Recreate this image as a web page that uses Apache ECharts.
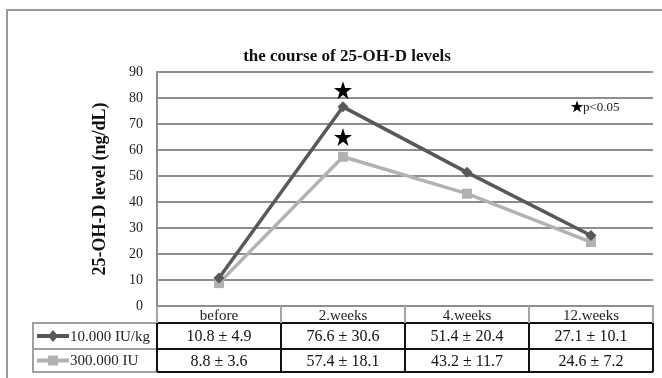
<!DOCTYPE html>
<html>
<head>
<meta charset="utf-8">
<script src="https://cdn.jsdelivr.net/npm/echarts@6/dist/echarts.min.js"></script>
<style>
  html, body { margin: 0; padding: 0; background: #fff; }
  #chart { width: 662px; height: 378px; }
</style>
</head>
<body>
<div id="chart"></div>
<script>
// Time points
const categories = ['before', '2.weeks', '4.weeks', '12.weeks'];
// Series names
const seriesNames = ['10.000 IU/kg', '300.000 IU'];
// Mean 25-OH-D levels (ng/dL)
const highDoseMean = [10.8, 76.6, 51.4, 27.1];
const lowDoseMean = [8.8, 57.4, 43.2, 24.6];
// Standard deviations
const highDoseSd = [4.9, 30.6, 20.4, 10.1];
const lowDoseSd = [3.6, 18.1, 11.7, 7.2];
// Significance markers (p<0.05)
const starPoints = [['2.weeks', 83], ['2.weeks', 65]];
// Y axis ticks
const yMin = 0, yMax = 90, yStep = 10;

const darkColor = '#585858';
const lightColor = '#b2b2b2';
const gridColor = '#8e8e8e';
const serif = '"Liberation Serif", "DejaVu Serif", serif';
const starPath = 'path://M12,0 L14.9,8.6 L24,8.6 L16.6,13.9 L19.4,22.5 L12,17.2 L4.6,22.5 L7.4,13.9 L0,8.6 L9.1,8.6 Z';

// Five-pointed star outline as polygon points
function starPoly(cx, cy, R) {
  const r = R * 0.4;
  const pts = [];
  for (let i = 0; i < 10; i++) {
    const a = -Math.PI / 2 + i * Math.PI / 5;
    const rad = i % 2 === 0 ? R : r;
    pts.push([cx + rad * Math.cos(a), cy + rad * Math.sin(a)]);
  }
  return pts;
}

const chart = echarts.init(document.getElementById('chart'), null, { renderer: 'canvas' });

const GRID = { left: 157, right: 9, top: 72, bottom: 72 };

chart.setOption({
  animation: false,
  backgroundColor: '#fff',
  title: {
    text: 'the course of 25-OH-D levels',
    left: 342, top: 43, textAlign: 'center',
    textStyle: { fontFamily: serif, fontSize: 17, fontWeight: 'bold', color: '#111' }
  },
  grid: GRID,
  xAxis: {
    type: 'category',
    data: categories,
    boundaryGap: true,
    axisLine: { show: true, lineStyle: { color: gridColor, width: 2 } },
    axisTick: { show: true, interval: 0, length: 17, lineStyle: { color: '#a6a6a6', width: 2 } },
    axisLabel: { interval: 0, margin: 3, fontFamily: serif, fontSize: 15, color: '#222' },
    splitLine: { show: false }
  },
  yAxis: {
    type: 'value',
    min: yMin, max: yMax, interval: yStep,
    name: '25-OH-D level (ng/dL)',
    nameLocation: 'middle',
    nameGap: 48,
    nameTextStyle: { fontFamily: serif, fontSize: 18, fontWeight: 'bold', color: '#111' },
    axisLine: { show: true, lineStyle: { color: gridColor, width: 2 } },
    axisTick: { show: false },
    axisLabel: { margin: 14, fontFamily: serif, fontSize: 14, color: '#222' },
    splitLine: { show: true, lineStyle: { color: gridColor, width: 2 } }
  },
  series: [
    {
      name: seriesNames[0], type: 'line', data: highDoseMean,
      symbol: 'diamond', symbolSize: 11, z: 4,
      lineStyle: { color: darkColor, width: 3.5 },
      itemStyle: { color: darkColor }
    },
    {
      name: seriesNames[1], type: 'line', data: lowDoseMean,
      symbol: 'rect', symbolSize: 10, z: 3,
      lineStyle: { color: lightColor, width: 3.5 },
      itemStyle: { color: lightColor }
    },
    {
      name: 'p<0.05', type: 'scatter', data: starPoints,
      symbol: starPath, symbolSize: 18, z: 5,
      itemStyle: { color: '#000', opacity: 1 }
    }
  ]
});

// Data table beneath the plot, aligned to the category columns
const xs = categories.map(c => chart.convertToPixel({ xAxisIndex: 0 }, c));
const colW = xs.length > 1 ? xs[1] - xs[0] : 124;
const tableLeft = xs[0] - colW / 2;
const tableRight = xs[xs.length - 1] + colW / 2;
const rowTops = [323, 349];
const rowBottom = 372;
const legendLeft = 33;

const g = [];
// Outer frame
g.push({ type: 'rect', shape: { x: 7, y: 10, width: 720, height: 420 },
  style: { fill: null, stroke: '#9a9a9a', lineWidth: 2 }, silent: true });

// Legend cells border
g.push({ type: 'rect', shape: { x: legendLeft, y: rowTops[0], width: tableLeft - legendLeft, height: rowBottom - rowTops[0] },
  style: { fill: null, stroke: '#a0a0a0', lineWidth: 2 } });
g.push({ type: 'line', shape: { x1: legendLeft, y1: rowTops[1], x2: tableLeft, y2: rowTops[1] },
  style: { stroke: '#a0a0a0', lineWidth: 2 } });

// Data cell grid (black)
[rowTops[0], rowTops[1], rowBottom].forEach(y => {
  g.push({ type: 'line', shape: { x1: tableLeft, y1: y, x2: tableRight, y2: y },
    style: { stroke: '#111', lineWidth: 2 } });
});
for (let i = 0; i <= categories.length; i++) {
  const x = tableLeft + i * colW;
  g.push({ type: 'line', shape: { x1: x, y1: rowTops[0], x2: x, y2: rowBottom },
    style: { stroke: '#111', lineWidth: 2 } });
}

// Legend samples and names
const legendRows = [
  { name: seriesNames[0], color: darkColor, symbol: 'diamond' },
  { name: seriesNames[1], color: lightColor, symbol: 'square' }
];
legendRows.forEach((r, i) => {
  const yc = (rowTops[i] + (i === 0 ? rowTops[1] : rowBottom)) / 2;
  g.push({ type: 'line', shape: { x1: 37, y1: yc, x2: 69, y2: yc },
    style: { stroke: r.color, lineWidth: 4 } });
  if (r.symbol === 'diamond') {
    g.push({ type: 'polygon', shape: { points: [[53, yc - 6], [58, yc], [53, yc + 6], [48, yc]] },
      style: { fill: r.color } });
  } else {
    g.push({ type: 'rect', shape: { x: 48, y: yc - 5, width: 10, height: 10 },
      style: { fill: r.color } });
  }
  g.push({ type: 'text', x: 70, y: yc + 1,
    style: { text: r.name, fill: '#222', font: '15px ' + serif, verticalAlign: 'middle' } });
});

// Mean ± SD values
const tableRows = [
  highDoseMean.map((m, i) => m.toFixed(1) + ' \u00b1 ' + highDoseSd[i].toFixed(1)),
  lowDoseMean.map((m, i) => m.toFixed(1) + ' \u00b1 ' + lowDoseSd[i].toFixed(1))
];
tableRows.forEach((row, r) => {
  const yc = (rowTops[r] + (r === 0 ? rowTops[1] : rowBottom)) / 2 + 1;
  row.forEach((txt, c) => {
    g.push({ type: 'text', x: xs[c], y: yc,
      style: { text: txt, fill: '#111', font: '16px ' + serif, align: 'center', verticalAlign: 'middle' } });
  });
});

// Significance note
g.push({ type: 'polygon', shape: { points: starPoly(577, 107, 6.5) }, style: { fill: '#000' } });
g.push({ type: 'text', x: 583, y: 108,
  style: { text: 'p<0.05', fill: '#222', font: '13px ' + serif, verticalAlign: 'middle' } });

chart.setOption({ graphic: { elements: g } });
</script>
</body>
</html>
